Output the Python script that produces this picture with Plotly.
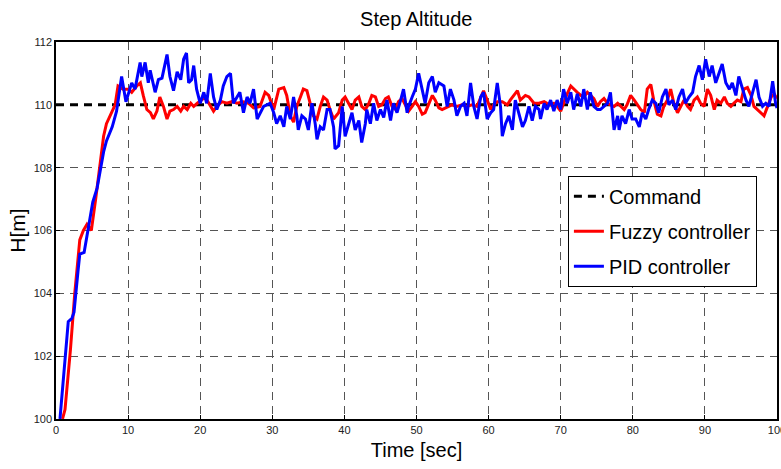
import plotly.graph_objects as go

# ---- data ----
fuzzy_t = [0.9, 1.25, 2.0, 2.6, 3.3, 3.8, 4.3, 4.9, 5.5, 6.1, 6.6, 7.0, 7.6, 8.2, 8.6, 9.3, 10.0, 10.5, 11.2, 11.7,
           12.1, 12.6, 13.1, 13.5, 14.0, 14.4, 14.9, 15.4, 15.8, 16.3, 16.8, 17.3, 17.7, 18.2, 18.7, 19.1, 19.6, 20.1,
           20.7, 21.2, 21.85, 22.3, 23.0, 23.7, 24.4, 25.1, 26.0, 26.7, 27.4, 28.3, 29.0, 29.5, 30.2, 30.9, 31.6, 32.0,
           32.5, 32.95, 33.4, 33.9, 34.3, 34.8, 35.3, 35.7, 36.2, 36.65, 37.1, 37.6, 38.0, 38.5, 39.2, 39.7, 40.1, 40.6,
           41.05, 41.5, 42.0, 42.4, 42.9, 43.4, 43.8, 44.3, 44.75, 45.2, 45.7, 46.1, 46.6, 47.1, 47.5, 48.0, 48.5, 48.9,
           49.4, 49.85, 50.3, 50.8, 51.2, 51.7, 52.2, 52.6, 53.1, 53.55, 54.0, 54.5, 54.9, 55.6, 56.3, 57.0, 57.7, 58.4,
           58.9, 59.3, 59.8, 60.3, 60.7, 61.2, 61.9, 62.6, 63.0, 63.5, 64.0, 64.4, 65.1, 65.6, 66.3, 67.0, 67.7, 68.1,
           68.6, 69.05, 69.5, 70.0, 70.4, 70.9, 71.4, 71.8, 72.3, 72.8, 73.2, 73.7, 74.1, 74.6, 75.1, 75.5, 76.0, 76.5,
           76.9, 77.4, 77.9, 78.3, 78.8, 79.2, 79.7, 80.2, 80.6, 81.1, 81.6, 82.0, 82.5, 82.9, 83.4, 83.9, 84.3, 84.8,
           85.25, 85.7, 86.2, 86.6, 87.1, 87.6, 88.0, 88.5, 88.95, 89.4, 89.9, 90.35, 90.8, 91.3, 91.7, 92.2, 92.7,
           93.1, 93.6, 94.0, 94.5, 95.0, 95.4, 95.9, 96.4, 96.8, 97.3, 97.8, 98.2, 98.7, 99.2, 99.6, 100.0]
fuzzy_h = [100.0, 100.3, 102.2, 104.0, 105.7, 106.0, 106.2, 106.0, 107.0, 108.0, 109.0, 109.4, 109.7, 110.0, 110.6,
           110.5, 110.5, 110.4, 110.6, 110.7, 110.3, 109.85, 109.75, 109.55, 109.8, 110.25, 109.95, 109.55, 109.8,
           109.85, 109.95, 109.8, 109.95, 109.85, 110.05, 109.95, 110.05, 110.15, 110.25, 110.05, 109.8, 109.95, 110.1,
           110.05, 110.1, 110.05, 110.1, 110.05, 109.9, 109.95, 110.4, 110.3, 109.85, 110.5, 110.55, 110.3, 109.65,
           109.45, 109.95, 110.25, 110.5, 110.45, 109.95, 109.65, 109.55, 109.95, 110.25, 110.15, 109.85, 109.55,
           109.75, 110.15, 110.25, 110.05, 109.85, 110.15, 110.25, 109.95, 109.85, 110.05, 110.3, 110.25, 109.95, 110.0,
           110.2, 110.25, 109.95, 109.85, 110.1, 110.2, 109.95, 109.8, 109.95, 110.1, 109.95, 109.7, 109.75, 110.05,
           110.3, 110.15, 109.9, 109.85, 109.9, 109.95, 110.0, 109.95, 110.0, 109.95, 110.0, 109.95, 110.25, 110.45,
           110.15, 109.85, 110.0, 110.1, 110.1, 110.0, 110.15, 110.3, 110.45, 110.15, 110.3, 110.25, 110.05, 110.05,
           110.1, 110.05, 110.0, 110.05, 109.95, 109.8, 110.05, 110.35, 110.6, 110.5, 110.4, 110.3, 110.25, 110.4,
           110.3, 110.2, 109.95, 110.1, 110.2, 110.05, 110.0, 109.95, 110.05, 109.95, 109.85, 110.0, 110.3, 110.15,
           110.0, 109.85, 109.75, 110.5, 110.65, 110.15, 109.7, 109.65, 109.95, 110.15, 110.5, 110.05, 109.75, 109.95,
           110.15, 109.95, 109.85, 110.15, 110.25, 110.05, 109.95, 110.5, 110.3, 109.85, 110.15, 110.05, 110.25,
           110.05, 109.95, 110.05, 110.15, 110.1, 110.5, 110.55, 110.3, 109.95, 109.85, 109.75, 109.65, 109.95,
           110.25, 110.35, 110.2]

pid_t = [0.55, 1.1, 1.25, 1.7, 2.2, 2.5, 3.05, 3.3, 3.9, 4.4, 4.8, 5.1, 5.7, 6.1, 6.6, 7.0, 7.3, 7.8, 8.4, 9.1, 9.7,
         10.5, 10.96, 11.67, 11.9, 12.36, 12.8, 13.06, 13.75, 14.2, 14.7, 15.4, 15.8, 16.3, 16.8, 17.3, 17.7, 18.1,
         18.4, 18.8, 19.1, 19.5, 20.0, 20.5, 20.9, 21.4, 21.85, 22.3, 22.8, 23.2, 23.7, 24.2, 24.6, 25.1, 25.5, 26.0,
         26.5, 26.9, 27.4, 27.9, 28.3, 28.8, 29.7, 30.2, 30.6, 31.1, 31.6, 32.0, 32.5, 32.95, 33.4, 33.6, 34.1, 34.6,
         35.0, 35.5, 35.95, 36.2, 36.65, 37.1, 37.6, 38.0, 38.5, 38.7, 39.2, 39.7, 40.1, 40.6, 41.05, 41.5, 42.0, 42.4,
         42.9, 43.1, 43.6, 44.05, 44.5, 45.0, 45.45, 45.9, 46.4, 46.8, 47.3, 47.8, 48.2, 48.7, 48.9, 49.4, 49.85, 50.3,
         50.8, 51.2, 51.7, 52.2, 52.6, 53.1, 53.8, 54.25, 54.7, 55.2, 55.6, 56.1, 56.6, 57.0, 57.5, 57.95, 58.4, 58.9,
         59.3, 59.8, 60.3, 60.7, 61.2, 61.65, 61.9, 62.35, 62.8, 63.3, 63.7, 64.2, 64.7, 65.1, 65.6, 66.05, 66.5, 67.0,
         67.2, 67.7, 68.1, 68.6, 69.05, 69.5, 70.0, 70.4, 70.9, 71.4, 71.8, 72.3, 72.8, 73.2, 73.7, 74.1, 74.6, 75.1,
         75.5, 76.0, 76.5, 76.9, 77.4, 77.9, 78.1, 78.5, 79.0, 79.5, 79.9, 80.4, 80.9, 81.3, 81.8, 82.2, 82.7, 83.2,
         83.6, 84.1, 84.6, 85.0, 85.5, 85.95, 86.4, 86.9, 87.3, 87.8, 88.3, 88.7, 89.2, 89.65, 90.1, 90.6, 91.0, 91.5,
         91.95, 92.4, 92.9, 93.4, 93.8, 94.3, 94.7, 95.2, 95.7, 96.1, 96.6, 97.1, 97.5, 98.0, 98.45, 98.9, 99.4, 99.8,
         100.0]
pid_h = [100.0, 101.45, 102.0, 103.1, 103.2, 103.4, 104.7, 105.25, 105.3, 106.0, 106.5, 106.9, 107.35, 107.85, 108.5,
         108.85, 109.0, 109.3, 109.8, 110.9, 110.1, 110.7, 110.5, 111.35, 110.9, 111.35, 110.7, 111.1, 110.4, 110.8,
         110.85, 111.6, 110.9, 110.45, 111.05, 110.8, 111.45, 111.65, 110.7, 110.8, 111.25, 110.5, 110.05, 110.4,
         110.05, 111.0, 110.25, 109.85, 110.15, 110.6, 110.9, 111.0, 110.05, 110.25, 110.4, 109.75, 110.25, 110.05,
         110.5, 109.55, 109.75, 109.95, 110.05, 109.75, 109.4, 109.65, 109.3, 109.95, 109.55, 110.25, 109.65, 109.2,
         109.65, 109.55, 109.2, 110.05, 109.4, 108.9, 109.3, 109.2, 109.85, 109.85, 109.3, 108.6, 108.7, 109.95,
         109.0, 109.4, 109.75, 109.2, 109.5, 108.8, 109.4, 109.85, 109.4, 110.05, 109.5, 109.85, 109.6, 110.15, 109.5,
         110.05, 109.75, 110.15, 110.5, 109.75, 109.95, 110.25, 110.5, 111.0, 110.5, 110.05, 110.7, 110.9, 110.4,
         110.7, 110.6, 109.95, 110.5, 110.15, 109.65, 109.95, 110.05, 109.65, 110.7, 109.95, 109.55, 110.25, 110.4,
         109.55, 109.75, 109.85, 110.7, 109.95, 109.0, 109.4, 109.65, 109.2, 110.15, 109.75, 109.3, 109.5, 109.95,
         109.5, 109.95, 109.85, 109.55, 110.05, 109.85, 110.15, 109.8, 110.15, 109.85, 110.5, 110.05, 110.4, 109.85,
         110.35, 109.95, 110.5, 109.85, 110.4, 109.95, 109.85, 109.85, 109.95, 110.05, 110.4, 109.2, 109.65, 109.2,
         109.65, 109.4, 109.85, 109.55, 109.55, 109.3, 109.75, 109.55, 109.85, 110.15, 110.05, 109.75, 110.25, 110.5,
         110.0, 110.15, 109.85, 110.25, 110.5, 110.05, 110.25, 110.4, 110.9, 111.25, 110.8, 111.45, 110.9, 111.25,
         110.7, 111.0, 111.3, 110.7, 110.5, 110.7, 110.3, 110.9, 110.5, 110.15, 109.95, 110.4, 110.8, 110.25, 109.95,
         110.05, 109.95, 110.75, 110.05, 109.9]

command_t = [0, 100]
command_h = [110, 110]

x_ticks = [0, 10, 20, 30, 40, 50, 60, 70, 80, 90, 100]
y_ticks = [100, 102, 104, 106, 108, 110, 112]

names = ["Command", "Fuzzy controller", "PID controller"]

# ---- figure ----
fig = go.Figure()
fig.add_trace(go.Scatter(x=command_t, y=command_h, mode="lines", name=names[0], legendgroup="g1",
                         line=dict(color="black", width=3, dash="8px,6px")))
fig.add_trace(go.Scatter(x=fuzzy_t, y=fuzzy_h, mode="lines", name=names[1], legendgroup="g2",
                         line=dict(color="#ff0000", width=3)))
fig.add_trace(go.Scatter(x=pid_t, y=pid_h, mode="lines", name=names[2], legendgroup="g3",
                         line=dict(color="#0000ff", width=3)))

tickfont = dict(family="Liberation Sans Narrow, Arial Narrow, Liberation Sans", size=11, color="#222")
axis_common = dict(showline=True, linecolor="black", linewidth=1.5, mirror=True,
                   showgrid=True, gridcolor="#555", gridwidth=1, griddash="8px,6px",
                   ticks="inside", ticklen=4, tickcolor="black", zeroline=False, tickfont=tickfont,
                   automargin=False, ticklabeloverflow="allow")

fig.update_layout(
    width=781, height=469,
    margin=dict(l=56, r=4, t=42, b=50, autoexpand=False),
    paper_bgcolor="white", plot_bgcolor="white",
    title=dict(text="Step Altitude", x=0.533, xanchor="center", y=0.960, yanchor="middle",
               font=dict(family="Liberation Sans", size=20, color="black")),
    xaxis=dict(range=[0, 100], tickvals=x_ticks, ticktext=[str(v) for v in x_ticks],
               title=dict(text="Time [sec]", font=dict(family="Liberation Sans", size=20, color="black"), standoff=8),
               **axis_common),
    yaxis=dict(range=[100, 112], tickvals=y_ticks, ticktext=[str(v) for v in y_ticks],
               title=dict(text="H[m]", font=dict(family="Liberation Sans", size=21, color="black"), standoff=2),
               **axis_common),
    legend=dict(x=0.710, y=0.645, xanchor="left", yanchor="top",
                bgcolor="white", bordercolor="black", borderwidth=1,
                font=dict(family="Liberation Sans", size=20, color="black"),
                itemwidth=30, tracegroupgap=6),
    showlegend=True,
)

fig.write_html("out.html", config={"displayModeBar": False},
               post_script="document.body.style.margin='0';document.body.style.overflow='hidden';")
